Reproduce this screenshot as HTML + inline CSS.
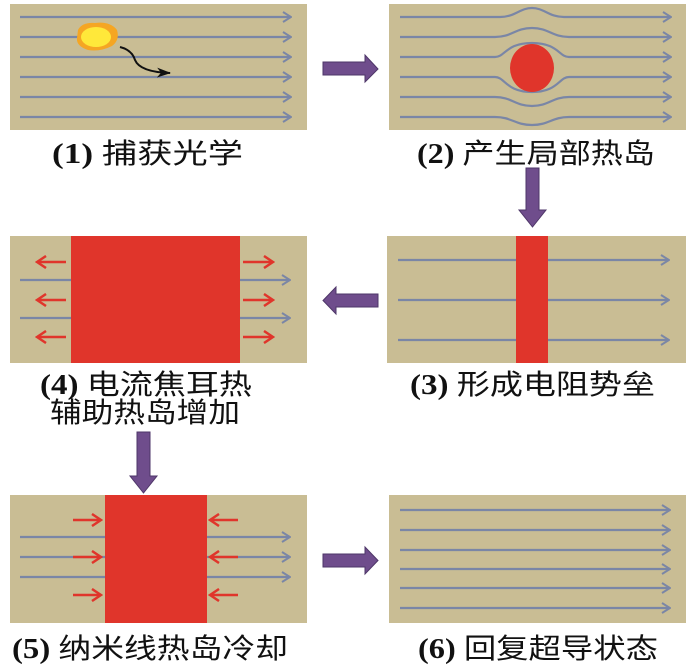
<!DOCTYPE html>
<html><head><meta charset="utf-8"><style>
html,body{margin:0;padding:0;background:#fff;}
svg{display:block}
text{font-family:"Liberation Serif","Noto Sans CJK SC",sans-serif;font-size:28px;fill:#111;}
tspan.n{font-weight:bold;font-family:"Liberation Serif",serif;}
</style></head><body>
<svg width="700" height="665" viewBox="0 0 700 665" xmlns="http://www.w3.org/2000/svg">
<defs>
<marker id="bh" markerWidth="10" markerHeight="12" refX="9" refY="6" orient="auto" markerUnits="userSpaceOnUse">
<path d="M1,1 L9,6 L1,11" fill="none" stroke="#7a86a6" stroke-width="2"/>
</marker>
<marker id="rh" markerWidth="12" markerHeight="14" refX="10" refY="7" orient="auto" markerUnits="userSpaceOnUse">
<path d="M1,1 L10,7 L1,13" fill="none" stroke="#e0352b" stroke-width="2.5"/>
</marker>
<marker id="kh" markerWidth="14" markerHeight="10" refX="13" refY="5" orient="auto" markerUnits="userSpaceOnUse">
<path d="M0,0 L14,5 L0,10 L4,5 Z" fill="#111"/>
</marker>
</defs>

<!-- Panel 1 -->
<rect x="10" y="4" width="297" height="126" fill="#c9bd94"/>
<g stroke="#7a86a6" stroke-width="2.2" fill="none">
<line x1="20" y1="17" x2="291" y2="17" marker-end="url(#bh)"/>
<line x1="20" y1="37" x2="291" y2="37" marker-end="url(#bh)"/>
<line x1="20" y1="57" x2="291" y2="57" marker-end="url(#bh)"/>
<line x1="20" y1="77" x2="291" y2="77" marker-end="url(#bh)"/>
<line x1="20" y1="97" x2="291" y2="97" marker-end="url(#bh)"/>
<line x1="20" y1="117" x2="291" y2="117" marker-end="url(#bh)"/>
</g>
<path d="M78,30 Q82,22 95,23 Q110,21 117,30 Q120,40 112,46 Q100,52 88,50 Q76,46 77,38 Z" fill="#f5a623"/>
<ellipse cx="96" cy="37" rx="15" ry="10" fill="#ffe83a"/>
<path d="M120,47 Q132,50 135,60 Q140,72 170,73" fill="none" stroke="#111" stroke-width="2" marker-end="url(#kh)"/>
<text x="52" y="163" textLength="191" lengthAdjust="spacingAndGlyphs"><tspan class="n">(1) </tspan>捕获光学</text>

<!-- Arrow 1->2 -->
<path d="M323,62 L365,62 L365,55 L378,69 L365,82 L365,75 L323,75 Z" fill="#6f4d8c" stroke="#4e3668" stroke-width="1"/>

<!-- Panel 2 -->
<rect x="389" y="4" width="297" height="126" fill="#c9bd94"/>
<g stroke="#7a86a6" stroke-width="2.2" fill="none">
<path d="M400,17 L500,17 C515,17 520,8 532,8 C544,8 549,17 564,17 L671,17" marker-end="url(#bh)"/>
<path d="M400,37 L495,37 C512,37 515,28 532,28 C549,28 552,37 569,37 L671,37" marker-end="url(#bh)"/>
<path d="M400,57 L495,57 C505,57 506,43 532,43 C558,43 559,57 569,57 L671,57" marker-end="url(#bh)"/>
<path d="M400,77 L495,77 C505,77 506,92 532,92 C558,92 559,77 569,77 L671,77" marker-end="url(#bh)"/>
<path d="M400,97 L495,97 C512,97 515,106 532,106 C549,106 552,97 569,97 L671,97" marker-end="url(#bh)"/>
<path d="M400,117 L495,117 C512,117 515,125 532,125 C549,125 552,117 569,117 L671,117" marker-end="url(#bh)"/>
</g>
<ellipse cx="532" cy="68" rx="22" ry="24" fill="#e0352b"/>
<text x="417" y="163" textLength="238" lengthAdjust="spacingAndGlyphs"><tspan class="n">(2) </tspan>产生局部热岛</text>

<!-- Arrow 2->3 -->
<path d="M526,168 L539,168 L539,210 L546,210 L532.5,227 L519,210 L526,210 Z" fill="#6f4d8c" stroke="#4e3668" stroke-width="1"/>

<!-- Panel 3 -->
<rect x="387" y="236" width="299" height="127" fill="#c9bd94"/>
<g stroke="#7a86a6" stroke-width="2.2" fill="none">
<line x1="398" y1="260" x2="669" y2="260" marker-end="url(#bh)"/>
<line x1="398" y1="300" x2="669" y2="300" marker-end="url(#bh)"/>
<line x1="398" y1="340" x2="669" y2="340" marker-end="url(#bh)"/>
</g>
<rect x="516" y="236" width="32" height="127" fill="#e0352b"/>
<text x="410" y="394" textLength="245" lengthAdjust="spacingAndGlyphs"><tspan class="n">(3) </tspan>形成电阻势垒</text>

<!-- Arrow 3->4 -->
<path d="M378,294 L336,294 L336,287 L323,300.5 L336,314 L336,307 L378,307 Z" fill="#6f4d8c" stroke="#4e3668" stroke-width="1"/>

<!-- Panel 4 -->
<rect x="10" y="236" width="297" height="127" fill="#c9bd94"/>
<g stroke="#7a86a6" stroke-width="2.2" fill="none">
<line x1="20" y1="280" x2="290" y2="280" marker-end="url(#bh)"/>
<line x1="20" y1="318" x2="290" y2="318" marker-end="url(#bh)"/>
</g>
<rect x="71" y="236" width="169" height="127" fill="#e0352b"/>
<g stroke="#e0352b" stroke-width="2.5" fill="none">
<line x1="66" y1="262" x2="37" y2="262" marker-end="url(#rh)"/>
<line x1="66" y1="300" x2="37" y2="300" marker-end="url(#rh)"/>
<line x1="66" y1="337" x2="37" y2="337" marker-end="url(#rh)"/>
<line x1="243" y1="262" x2="273" y2="262" marker-end="url(#rh)"/>
<line x1="243" y1="300" x2="273" y2="300" marker-end="url(#rh)"/>
<line x1="243" y1="337" x2="273" y2="337" marker-end="url(#rh)"/>
</g>
<text x="40" y="394" textLength="212" lengthAdjust="spacingAndGlyphs"><tspan class="n">(4) </tspan>电流焦耳热</text>
<text x="50" y="422" textLength="190" lengthAdjust="spacingAndGlyphs">辅助热岛增加</text>

<!-- Arrow 4->5 -->
<path d="M137,432 L150,432 L150,476 L157,476 L143.5,493 L130,476 L137,476 Z" fill="#6f4d8c" stroke="#4e3668" stroke-width="1"/>

<!-- Panel 5 -->
<rect x="10" y="495" width="297" height="128" fill="#c9bd94"/>
<g stroke="#7a86a6" stroke-width="2.2" fill="none">
<line x1="20" y1="537" x2="290" y2="537" marker-end="url(#bh)"/>
<line x1="20" y1="557" x2="290" y2="557" marker-end="url(#bh)"/>
<line x1="20" y1="577" x2="290" y2="577" marker-end="url(#bh)"/>
</g>
<rect x="105" y="495" width="102" height="128" fill="#e0352b"/>
<g stroke="#e0352b" stroke-width="2.5" fill="none">
<line x1="73" y1="520" x2="101" y2="520" marker-end="url(#rh)"/>
<line x1="73" y1="557" x2="101" y2="557" marker-end="url(#rh)"/>
<line x1="73" y1="595" x2="101" y2="595" marker-end="url(#rh)"/>
<line x1="238" y1="520" x2="210" y2="520" marker-end="url(#rh)"/>
<line x1="238" y1="557" x2="210" y2="557" marker-end="url(#rh)"/>
<line x1="238" y1="595" x2="210" y2="595" marker-end="url(#rh)"/>
</g>
<text x="12" y="658" textLength="276" lengthAdjust="spacingAndGlyphs"><tspan class="n">(5) </tspan>纳米线热岛冷却</text>

<!-- Arrow 5->6 -->
<path d="M323,554 L365,554 L365,547 L378,560.5 L365,574 L365,567 L323,567 Z" fill="#6f4d8c" stroke="#4e3668" stroke-width="1"/>

<!-- Panel 6 -->
<rect x="389" y="495" width="297" height="128" fill="#c9bd94"/>
<g stroke="#7a86a6" stroke-width="2.2" fill="none">
<line x1="400" y1="510" x2="670" y2="510" marker-end="url(#bh)"/>
<line x1="400" y1="530" x2="670" y2="530" marker-end="url(#bh)"/>
<line x1="400" y1="550" x2="670" y2="550" marker-end="url(#bh)"/>
<line x1="400" y1="569" x2="670" y2="569" marker-end="url(#bh)"/>
<line x1="400" y1="588" x2="670" y2="588" marker-end="url(#bh)"/>
<line x1="400" y1="608" x2="670" y2="608" marker-end="url(#bh)"/>
</g>
<text x="418" y="658" textLength="240" lengthAdjust="spacingAndGlyphs"><tspan class="n">(6) </tspan>回复超导状态</text>
</svg>
</body></html>
